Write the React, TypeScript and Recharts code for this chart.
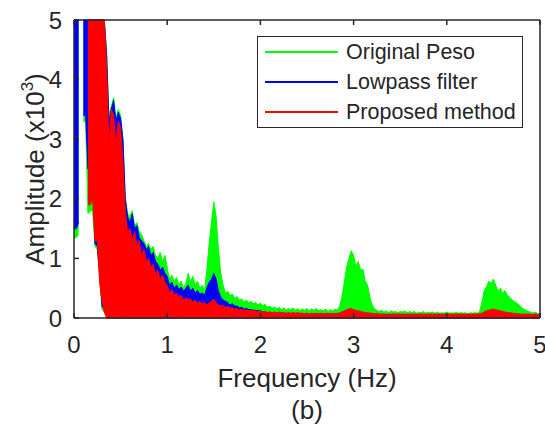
import { ComposedChart, Area, XAxis, YAxis } from "recharts";

// spectrum sampled every 0.025 Hz (0 .. 5 Hz), values in x10^3
const STEP = 0.025;

// Original Peso (upper edge of the trace, null = gap)
const pesoHi = [
  5, 5, 5, null, 5, 5, 5, 5, 5, 5,
  5, 5, 5, 5, 4.5, 3.4, 3.55, 3.7, 3.35, 3.5,
  3.4, 3.0, 2.05, 1.75, 1.7, 1.8, 1.55, 1.6, 1.45, 1.4,
  1.3, 1.2, 1.25, 1.15, 1.2, 1.05, 1.0, 1.1, 0.95, 1.05,
  0.85, 0.65, 0.72, 0.6, 0.68, 0.55, 0.62, 0.5, 0.58, 0.75,
  0.6, 0.7, 0.55, 0.62, 0.5, 0.55, 0.45, 0.8, 1.25, 1.6,
  1.95, 1.7, 1.15, 0.75, 0.55, 0.42, 0.45, 0.38, 0.4, 0.33,
  0.36, 0.3, 0.32, 0.27, 0.3, 0.25, 0.28, 0.24, 0.26, 0.22,
  0.25, 0.2, 0.23, 0.18, 0.2, 0.16, 0.19, 0.15, 0.18, 0.14,
  0.17, 0.13, 0.16, 0.14, 0.17, 0.13, 0.16, 0.12, 0.15, 0.13,
  0.16, 0.12, 0.15, 0.13, 0.16, 0.12, 0.14, 0.12, 0.15, 0.11,
  0.14, 0.12, 0.15, 0.13, 0.2, 0.35, 0.6, 0.85, 1.0, 1.13,
  1.05, 0.85, 0.95, 0.8, 0.82, 0.62, 0.55, 0.35, 0.22, 0.15,
  0.13, 0.11, 0.13, 0.1, 0.12, 0.09, 0.12, 0.1, 0.11, 0.09,
  0.11, 0.1, 0.12, 0.09, 0.11, 0.09, 0.11, 0.08, 0.1, 0.09,
  0.11, 0.08, 0.1, 0.09, 0.1, 0.08, 0.1, 0.08, 0.09, 0.08,
  0.1, 0.08, 0.09, 0.08, 0.1, 0.08, 0.09, 0.08, 0.09, 0.07,
  0.09, 0.08, 0.09, 0.08, 0.1, 0.25, 0.45, 0.52, 0.62, 0.58,
  0.65, 0.55, 0.45, 0.5, 0.42, 0.46, 0.38, 0.35, 0.3, 0.28,
  0.25, 0.22, 0.18, 0.15, 0.13, 0.11, 0.1, 0.08, 0.1, 0.07,
  0.08,
];
// lower edge of the first spikes (rest of the trace reaches 0)
const pesoLo = [1.35, 1.35, 1.4, 1.4, 3.3, 3.3, 1.75, 1.8, 1.8, 1.2, 1.15, 0.7, 0.15, 0.1, 0.05, 0];

// Lowpass filter
const lowpassHi = [
  5, 5, 5, null, 5, 5, 5, 5, 5, 5,
  5, 5, 5, 5, 4.4, 3.3, 3.5, 3.65, 3.3, 3.45,
  3.35, 3.0, 2.0, 1.7, 1.6, 1.75, 1.5, 1.55, 1.35, 1.3,
  1.25, 1.15, 1.2, 1.05, 1.1, 0.95, 0.9, 0.8, 0.85, 0.75,
  0.7, 0.55, 0.6, 0.5, 0.55, 0.48, 0.52, 0.45, 0.5, 0.55,
  0.45, 0.5, 0.42, 0.46, 0.4, 0.42, 0.38, 0.5, 0.6, 0.65,
  0.75, 0.65, 0.45, 0.35, 0.3, 0.28, 0.26, 0.22, 0.24, 0.2,
  0.2, 0.17, 0.18, 0.15, 0.16, 0.14, 0.14, 0.13, 0.13, 0.12,
  0.12, 0.1, 0.1, 0.09, 0.1, 0.08, 0.09, 0.08, 0.09, 0.08,
  0.08, 0.07, 0.08, 0.07, 0.08, 0.07, 0.08, 0.07, 0.07, 0.06,
  0.07, 0.06, 0.07, 0.06, 0.07, 0.06, 0.07, 0.06, 0.07, 0.06,
  0.07, 0.06, 0.07, 0.07, 0.08, 0.1, 0.11, 0.12, 0.13, 0.12,
  0.11, 0.1, 0.09, 0.08, 0.08, 0.07, 0.07, 0.06, 0.06, 0.07,
  0.06, 0.05, 0.06, 0.05, 0.06, 0.05, 0.06, 0.05, 0.06, 0.05,
  0.06, 0.05, 0.06, 0.05, 0.06, 0.05, 0.06, 0.05, 0.06, 0.05,
  0.06, 0.05, 0.06, 0.05, 0.06, 0.05, 0.06, 0.05, 0.06, 0.05,
  0.06, 0.05, 0.06, 0.05, 0.06, 0.05, 0.06, 0.05, 0.06, 0.05,
  0.06, 0.05, 0.06, 0.05, 0.06, 0.07, 0.08, 0.1, 0.11, 0.12,
  0.12, 0.11, 0.1, 0.1, 0.09, 0.08, 0.07, 0.07, 0.06, 0.06,
  0.06, 0.05, 0.06, 0.05, 0.06, 0.05, 0.05, 0.06, 0.05, 0.05,
  0.05,
];
const lowpassLo = [1.5, 1.5, 1.6, 1.55, 3.4, 3.4, 2.5, 2.8, 2.5, 1.25, 1.2, 0.8, 0.2, 0.15, 0.1, 0];

// Proposed method
const proposedHi = [
  null, null, null, null, null, null, 5, 5, 5, 5,
  5, 5, 5, 5, 4.2, 2.9, 3.5, 3.4, 2.9, 3.3,
  3.2, 2.6, 1.8, 1.45, 1.5, 1.3, 1.45, 1.2, 1.3, 1.05,
  1.15, 0.95, 1.0, 0.85, 0.9, 0.75, 0.8, 0.65, 0.72, 0.6,
  0.55, 0.42, 0.48, 0.38, 0.42, 0.35, 0.38, 0.3, 0.34, 0.3,
  0.32, 0.27, 0.3, 0.25, 0.28, 0.24, 0.26, 0.22, 0.25, 0.28,
  0.32, 0.26, 0.22, 0.2, 0.21, 0.18, 0.19, 0.17, 0.17, 0.15,
  0.16, 0.14, 0.15, 0.13, 0.14, 0.12, 0.13, 0.12, 0.12, 0.11,
  0.11, 0.1, 0.11, 0.09, 0.1, 0.09, 0.1, 0.08, 0.1, 0.09,
  0.09, 0.08, 0.09, 0.08, 0.09, 0.08, 0.09, 0.08, 0.08, 0.07,
  0.08, 0.07, 0.08, 0.07, 0.08, 0.07, 0.08, 0.07, 0.07, 0.08,
  0.07, 0.08, 0.07, 0.08, 0.08, 0.1, 0.12, 0.14, 0.15, 0.16,
  0.14, 0.13, 0.12, 0.11, 0.1, 0.09, 0.09, 0.08, 0.08, 0.07,
  0.08, 0.07, 0.06, 0.07, 0.06, 0.07, 0.06, 0.07, 0.06, 0.07,
  0.06, 0.07, 0.06, 0.07, 0.06, 0.07, 0.06, 0.07, 0.06, 0.07,
  0.06, 0.07, 0.06, 0.07, 0.06, 0.07, 0.06, 0.07, 0.06, 0.07,
  0.06, 0.07, 0.06, 0.07, 0.06, 0.07, 0.06, 0.07, 0.06, 0.07,
  0.06, 0.07, 0.06, 0.07, 0.07, 0.08, 0.1, 0.12, 0.13, 0.14,
  0.15, 0.14, 0.13, 0.12, 0.11, 0.1, 0.09, 0.09, 0.08, 0.08,
  0.07, 0.07, 0.06, 0.07, 0.06, 0.07, 0.06, 0.06, 0.07, 0.06,
  0.06,
];
const proposedLo = [0, 0, 0, 0, 0, 0, 1.9, 1.9, 2.0, 1.3, 1.3, 0.6, 0.3, 0.1, 0, 0];

const xTicks = [0, 1, 2, 3, 4, 5];
const yTicks = [0, 1, 2, 3, 4, 5];

const series = [
  { key: "peso", name: "Original Peso", color: "#00ff00" },
  { key: "lowpass", name: "Lowpass filter", color: "#0000ff" },
  { key: "proposed", name: "Proposed method", color: "#ff0000" },
];

const band = (hi: number | null, lo: number | undefined) => (hi == null ? null : [lo ?? 0, hi]);

const data = pesoHi.map((v, i) => ({
  f: +(i * STEP).toFixed(3),
  peso: band(v, pesoLo[i]),
  lowpass: band(lowpassHi[i], lowpassLo[i]),
  proposed: band(proposedHi[i], proposedLo[i]),
}));

const INK = "#262626";
const FONT = "'Liberation Sans', Arial, Helvetica, sans-serif";
const W = 545;
const H = 425;
const TOP = 20;
const BOTTOM = 318;
const LEFT = 74;
const RIGHT = 540;
const TICK = 5;

const BottomTick = (p: any) => (
  <g>
    <line x1={p.x} x2={p.x} y1={BOTTOM} y2={BOTTOM - TICK} stroke={INK} strokeWidth={1.5} />
    <text x={p.x} y={p.y} dy="0.71em" textAnchor="middle" fontSize={24} fill={INK} fontFamily={FONT}>
      {p.payload.value}
    </text>
  </g>
);
const TopTick = (p: any) => (
  <line x1={p.x} x2={p.x} y1={TOP} y2={TOP + TICK} stroke={INK} strokeWidth={1.5} />
);
const LeftTick = (p: any) => (
  <g>
    <line x1={LEFT} x2={LEFT + TICK} y1={p.y} y2={p.y} stroke={INK} strokeWidth={1.5} />
    <text x={p.x} y={p.y} dy="0.355em" textAnchor="end" fontSize={24} fill={INK} fontFamily={FONT}>
      {p.payload.value}
    </text>
  </g>
);
const RightTick = (p: any) => (
  <line x1={RIGHT} x2={RIGHT - TICK} y1={p.y} y2={p.y} stroke={INK} strokeWidth={1.5} />
);

const axisLine = { stroke: INK, strokeWidth: 1.5 };

export default function App() {
  return (
    <div style={{ position: "absolute", left: 0, top: 0, width: W, height: H, background: "#fff" }}>
      <ComposedChart
        width={W}
        height={H}
        data={data}
        margin={{ top: TOP - 5, right: W - RIGHT - 5, bottom: H - BOTTOM - 40, left: LEFT - 50 }}
      >
        {series.map((s) => (
          <Area
            key={s.key}
            dataKey={s.key}
            name={s.name}
            type="linear"
            stroke={s.color}
            strokeWidth={1}
            fill={s.color}
            fillOpacity={1}
            dot={false}
            activeDot={false}
            isAnimationActive={false}
          />
        ))}
        <XAxis
          dataKey="f"
          type="number"
          domain={[0, 5]}
          ticks={xTicks}
          height={40}
          tickSize={0}
          tickMargin={18}
          tickLine={false}
          axisLine={axisLine}
          tick={BottomTick}
        />
        <XAxis
          xAxisId="top"
          orientation="top"
          dataKey="f"
          type="number"
          domain={[0, 5]}
          ticks={xTicks}
          height={5}
          tickSize={0}
          tickMargin={0}
          tickLine={false}
          axisLine={axisLine}
          tick={TopTick}
        />
        <YAxis
          type="number"
          domain={[0, 5]}
          ticks={yTicks}
          width={50}
          tickSize={0}
          tickMargin={12}
          tickLine={false}
          axisLine={axisLine}
          tick={LeftTick}
        />
        <YAxis
          yAxisId="right"
          orientation="right"
          type="number"
          domain={[0, 5]}
          ticks={yTicks}
          width={5}
          tickSize={0}
          tickMargin={0}
          tickLine={false}
          axisLine={axisLine}
          tick={RightTick}
        />
        <text x={(LEFT + RIGHT) / 2} y={387} textAnchor="middle" fontSize={26} fill={INK} fontFamily={FONT}>
          Frequency (Hz)
        </text>
        <text x={(LEFT + RIGHT) / 2} y={419} textAnchor="middle" fontSize={26} fill={INK} fontFamily={FONT}>
          (b)
        </text>
        <text
          transform="rotate(-90)"
          x={-(TOP + BOTTOM) / 2}
          y={44}
          textAnchor="middle"
          fontSize={26}
          fill={INK}
          fontFamily={FONT}
        >
          Amplitude (x10
          <tspan dy={-11} fontSize={17}>3</tspan>
          <tspan dy={11}>)</tspan>
        </text>
      </ComposedChart>
      <div
        style={{
          position: "absolute",
          left: 257,
          top: 36,
          width: 266,
          height: 92,
          boxSizing: "border-box",
          border: `1.5px solid ${INK}`,
          background: "#fff",
          fontFamily: FONT,
          fontSize: 21.5,
          color: INK,
        }}
      >
        {series.map((s) => (
          <div key={s.key} style={{ height: 30, display: "flex", alignItems: "center" }}>
            <span style={{ display: "inline-block", width: 73, height: 2, background: s.color, marginLeft: 7 }} />
            <span style={{ marginLeft: 8, whiteSpace: "nowrap" }}>{s.name}</span>
          </div>
        ))}
      </div>
    </div>
  );
}
